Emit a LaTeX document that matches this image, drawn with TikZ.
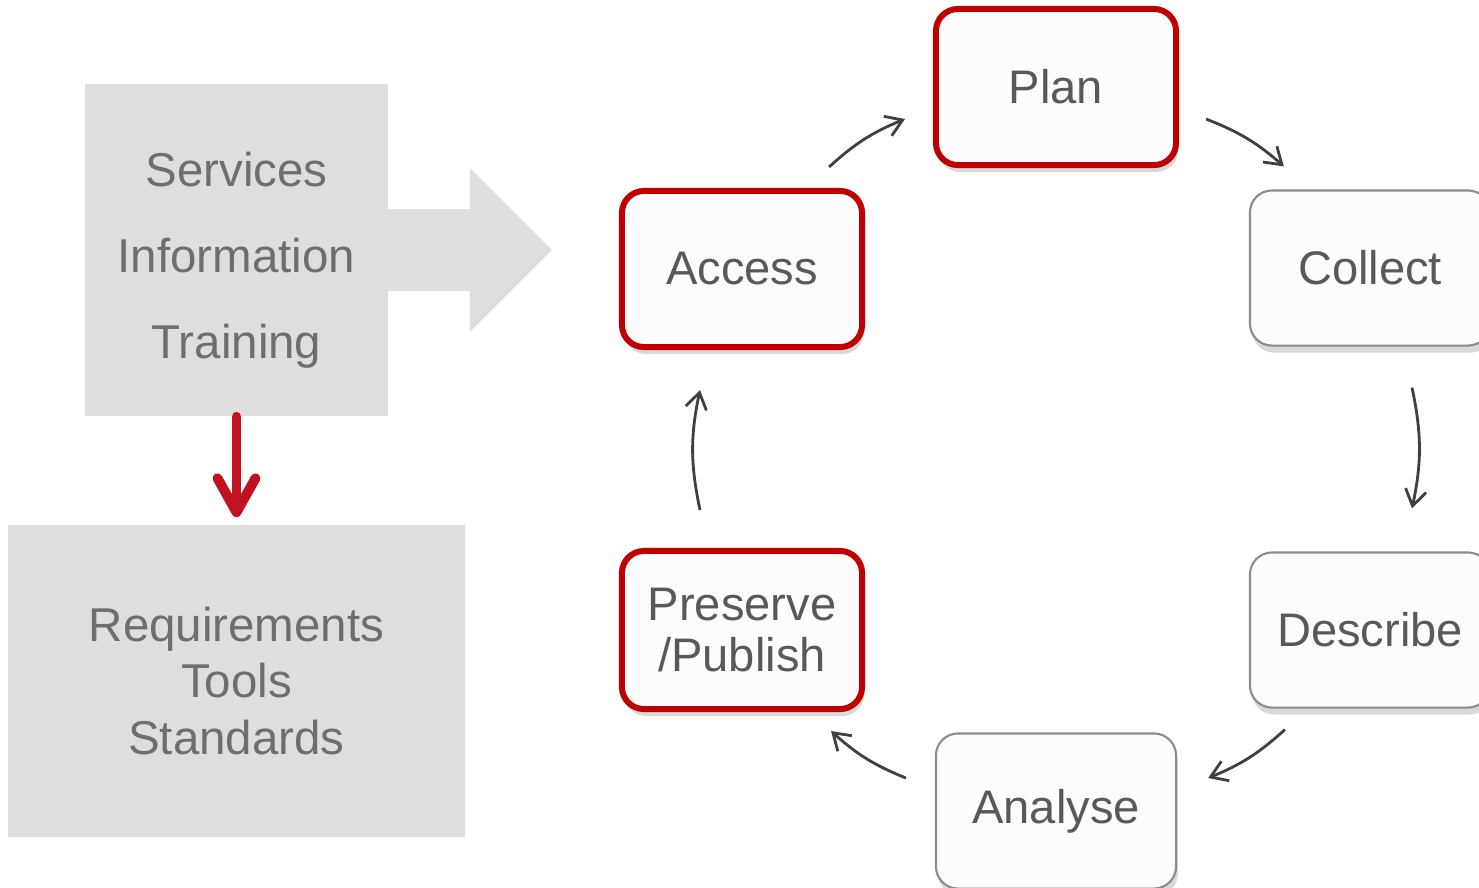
\documentclass[tikz,border=0pt]{standalone}
\usepackage{fontspec}
\setmainfont{Liberation Sans}
\usepackage{xcolor}
\usepackage{tikz}
\usetikzlibrary{arrows.meta, positioning, calc, shadows}
\definecolor{stagered}{RGB}{192, 0, 0}
\definecolor{stageline}{RGB}{140, 140, 140}
\definecolor{stagetext}{RGB}{89, 89, 89}
\definecolor{panelfill}{RGB}{222, 222, 222}
\definecolor{paneltext}{RGB}{110, 110, 110}
\definecolor{flowred}{RGB}{192, 18, 31}
\definecolor{cyclegray}{RGB}{64, 64, 64}
\tikzstyle{stage} = [rectangle, rounded corners=0.22cm, minimum width=2.4cm, minimum height=1.55cm, align=center, draw=stageline, line width=0.6pt, fill=white!99!black, text=stagetext, font=\fontsize{13.4}{14.5}\selectfont, drop shadow={opacity=0.3, shadow xshift=0.2mm, shadow yshift=-0.7mm}]
\tikzstyle{keystage} = [stage, draw=stagered, line width=1.7pt, minimum width=2.4cm, minimum height=1.56cm]
\tikzstyle{panel} = [rectangle, fill=panelfill, align=center, text=paneltext, inner sep=0pt]
\tikzstyle{cycarrow} = [line width=0.8pt, draw=cyclegray, -{Straight Barb[length=1.6mm, width=2.1mm]}, bend left=10]
\tikzstyle{flowarrow} = [line width=2.8pt, draw=flowred, -{Straight Barb[length=3.4mm, width=3.8mm, round]}, line cap=round]

\begin{document}
\begin{tikzpicture}[x=0.01cm, y=-0.01cm]
    \useasboundingbox (0,0) rectangle (1479,887);

    % Left panel
    \node[panel, minimum width=3.03cm, minimum height=3.32cm] (offer) at (236.5,250) {};
    \node[align=center, text=paneltext, font=\fontsize{13.5}{24.5}\selectfont] (offertext) at ([yshift=-0.1cm]offer.center) {Services\\Information\\Training};
    \fill[panelfill] ([shift={(-1,-41)}]offer.east) -- ++(82,0) -- ++(0,-41) -- ++(82,82) -- ++(-82,82) -- ++(0,-41) -- ++(-82,0) -- cycle;
    \node[panel, minimum width=4.57cm, minimum height=3.12cm, font=\fontsize{13.5}{16.2}\selectfont] (needs) at (236.5,681) {Requirements\\Tools\\Standards};
    \draw[flowarrow, shorten >=2pt] (offer.south) -- (needs.north);

    % Cycle
    \node[keystage] (plan) at (1056,87) {Plan};
    \node[stage] (collect) at (1370,268) {Collect};
    \node[stage] (describe) at (1370,630) {Describe};
    \node[stage] (analyse) at (1056,811) {Analyse};
    \node[keystage, minimum height=1.58cm] (preserve) at (742,630) {Preserve\\/Publish};
    \node[keystage] (access) at (742,269) {Access};

    % Connections
    \draw[cycarrow] ([shift={(-36,-21)}]access.north east) to ([shift={(-28,32)}]plan.west);
    \draw[cycarrow] ([shift={(27,32)}]plan.east) to ([shift={(35,-23)}]collect.north west);
    \draw[cycarrow, bend left=12] ([shift={(42,41)}]collect.south) to ([shift={(42,-43)}]describe.north);
    \draw[cycarrow] ([shift={(36,21)}]describe.south west) to ([shift={(31,-33)}]analyse.east);
    \draw[cycarrow] ([shift={(-29,-33)}]analyse.west) to ([shift={(-34,19)}]preserve.south east);
    \draw[cycarrow, bend left=12] ([shift={(-42,-38)}]preserve.north) to ([shift={(-42,40)}]access.south);
\end{tikzpicture}
\end{document}
